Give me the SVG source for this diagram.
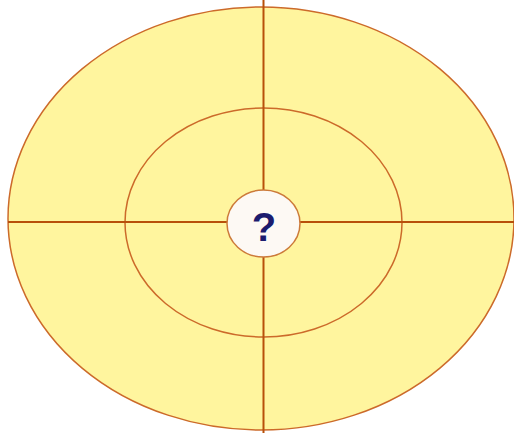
<svg xmlns="http://www.w3.org/2000/svg" width="514" height="433" viewBox="0 0 514 433">
<style>
.ring{fill:#fff59e;stroke:#cc6a2a;stroke-width:1.5}
.axis{stroke:#b8500a;stroke-width:2}
</style>
<rect width="514" height="433" fill="#ffffff"/>
<g id="outer"><ellipse class="ring" cx="261" cy="218.5" rx="253" ry="211.5"/></g>
<g id="inner"><ellipse class="ring" cx="263.5" cy="222.5" rx="138.5" ry="114.5"/></g>
<g id="connectors">
<line class="axis" x1="263.5" y1="0" x2="263.5" y2="433"/>
<line class="axis" x1="8" y1="222" x2="514" y2="222"/>
</g>
<g id="center">
<ellipse cx="263.5" cy="223.5" rx="36.5" ry="33.5" fill="#fdf9f4" stroke="#cc7a3a" stroke-width="1.5"/>
<text x="264" y="241" text-anchor="middle" font-family="Liberation Sans, Arial, sans-serif" font-weight="bold" font-size="40" fill="#1c1c6e">?</text>
</g>
</svg>
